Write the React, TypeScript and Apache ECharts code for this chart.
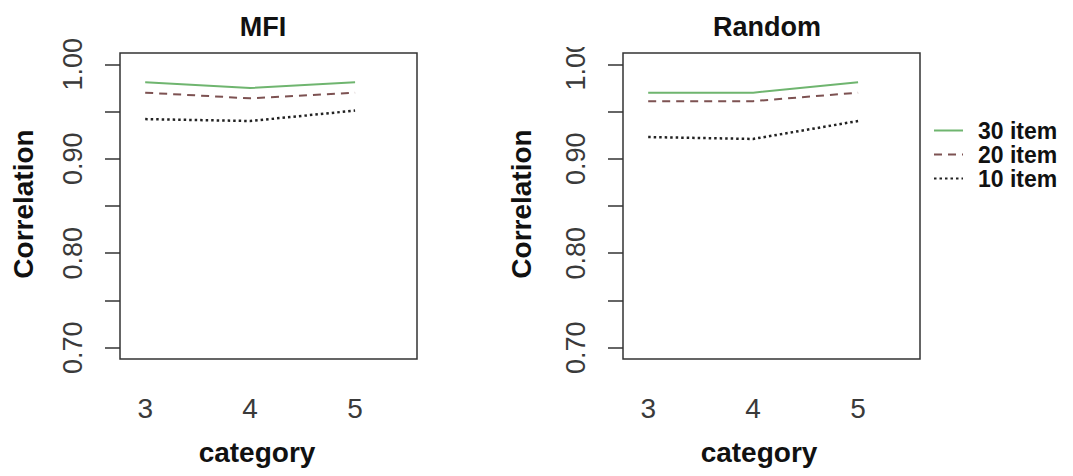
import React, { useEffect, useRef } from "react";
import * as echarts from "echarts";

const categories = [3, 4, 5];
const seriesNames = ["30 item", "20 item", "10 item"];
const mfi30 = [0.981, 0.975, 0.981];
const mfi20 = [0.97, 0.964, 0.97];
const mfi10 = [0.942, 0.94, 0.951];
const rnd30 = [0.97, 0.97, 0.981];
const rnd20 = [0.961, 0.961, 0.97];
const rnd10 = [0.923, 0.921, 0.94];
const yTicks = [0.7, 0.75, 0.8, 0.85, 0.9, 0.95, 1.0];
const yLabels = [0.7, 0.8, 0.9, 1.0];
const panelTitles = ["MFI", "Random"];

const FONT = "Liberation Sans, Arial, sans-serif";
const colors = ["#6fb56f", "#7d5252", "#222222"];
const lineTypes: any[] = ["solid", [8, 6], [2.5, 3]];
const lineWidths = [2, 2, 2.5];

export default function App() {
  const ref = useRef<HTMLDivElement>(null);
  useEffect(() => {
    if (!ref.current) return;
    const chart = echarts.init(ref.current, undefined, { renderer: "svg" });
    const lefts = [120, 623];
    const grids = lefts.map((l) => ({
      show: true,
      left: l,
      top: 53,
      width: 297,
      height: 306,
      borderColor: "#333",
      borderWidth: 1.5,
      backgroundColor: "transparent",
    }));
    const xAxes = lefts.map((_, i) => ({
      type: "value",
      gridIndex: i,
      min: 2.76,
      max: 5.59,
      axisLine: { show: false },
      axisTick: { show: false },
      splitLine: { show: false },
      axisLabel: {
        customValues: categories,
        fontSize: 28,
        color: "#3a3a3a",
        fontFamily: FONT,
        margin: 35,
      },
    }));
    const yAxes = lefts.map((_, i) => ({
      type: "value",
      gridIndex: i,
      min: 0.688,
      max: 1.012,
      axisLine: { show: false },
      splitLine: { show: false },
      axisTick: {
        show: true,
        customValues: yTicks,
        length: 15,
        lineStyle: { color: "#333", width: 1.5 },
      },
      axisLabel: {
        customValues: yLabels,
        rotate: 90,
        fontSize: 27,
        color: "#3a3a3a",
        fontFamily: FONT,
        margin: 34,
        formatter: (v: number) => v.toFixed(2),
      },
    }));
    const data = [
      [mfi30, mfi20, mfi10],
      [rnd30, rnd20, rnd10],
    ];
    const series: any[] = [];
    data.forEach((panel, p) => {
      panel.forEach((vals, k) => {
        series.push({
          type: "line",
          name: seriesNames[k],
          xAxisIndex: p,
          yAxisIndex: p,
          showSymbol: false,
          symbol: "none",
          data: categories.map((c, j) => [c, vals[j]]),
          lineStyle: { color: colors[k], width: lineWidths[k], type: lineTypes[k] },
          itemStyle: { color: colors[k] },
        });
      });
    });
    const titleX = [263, 767];
    const catX = [257, 759];
    const corrX = [23, 521];
    const graphics: any[] = [];
    panelTitles.forEach((t, i) => {
      graphics.push({
        type: "text",
        x: titleX[i],
        y: 27,
        style: { text: t, align: "center", verticalAlign: "middle", font: `bold 27px ${FONT}`, fill: "#111" },
      });
      graphics.push({
        type: "text",
        x: catX[i],
        y: 452,
        style: { text: "category", align: "center", verticalAlign: "middle", font: `bold 28px ${FONT}`, fill: "#111" },
      });
      graphics.push({
        type: "text",
        x: corrX[i],
        y: 204,
        rotation: Math.PI / 2,
        style: { text: "Correlation", align: "center", verticalAlign: "middle", font: `bold 28px ${FONT}`, fill: "#111" },
      });
    });
    graphics.push({
      type: "rect",
      z: 100,
      shape: { x: 556, y: 28, width: 36, height: 19 },
      style: { fill: "#fff" },
    });
    chart.setOption({
      animation: false,
      backgroundColor: "#fff",
      grid: grids,
      xAxis: xAxes,
      yAxis: yAxes,
      series,
      legend: {
        data: seriesNames,
        orient: "vertical",
        left: 933,
        top: 119,
        padding: 0,
        itemWidth: 29,
        itemHeight: 14,
        itemGap: 1,
        itemStyle: { opacity: 0 },
        textStyle: {
          fontSize: 23,
          fontWeight: "bold",
          fontFamily: FONT,
          color: "#111",
          lineHeight: 22,
          padding: [0, 0, 0, 10],
        },
      },
      graphic: graphics,
    });
    return () => chart.dispose();
  }, []);
  return (
    <div
      ref={ref}
      style={{ position: "absolute", left: 0, top: 0, width: 1073, height: 476, background: "#fff" }}
    />
  );
}
